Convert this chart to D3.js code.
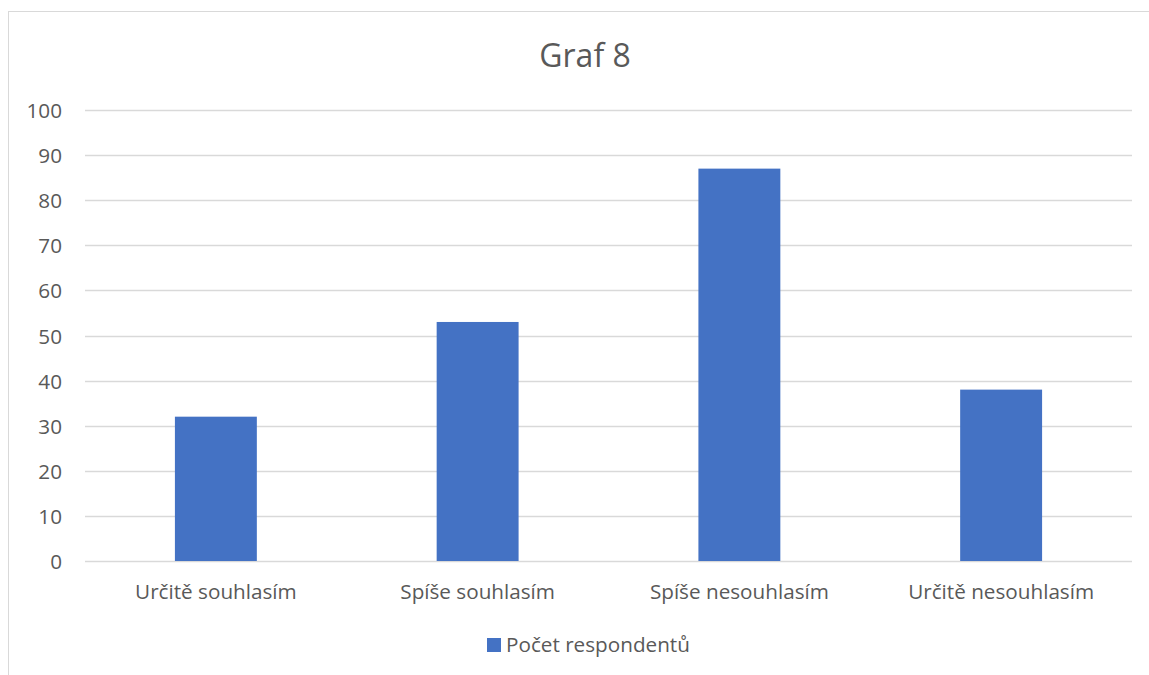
<!DOCTYPE html>
<html><head><meta charset="utf-8">
<script src="https://cdn.jsdelivr.net/npm/d3@7"></script>
<style>html,body{margin:0;padding:0;background:#fff;overflow:hidden}</style>
</head><body>
<svg id="c" width="1149" height="675"></svg>
<script>
const categories = ["Určitě souhlasím", "Spíše souhlasím", "Spíše nesouhlasím", "Určitě nesouhlasím"];
const values = [32, 53, 87, 38];
const yTicks = [0, 10, 20, 30, 40, 50, 60, 70, 80, 90, 100];
const seriesName = "Počet respondentů";
const title = "Graf 8";

(function () {
const svg = d3.select("#c");
const font = "'Open Sans', 'Noto Sans', sans-serif";
const textColor = "#595959";
const fs = 20.7;

svg.append("rect").attr("x", 8.5).attr("y", 11.5).attr("width", 1160).attr("height", 700)
  .attr("fill", "#fff").attr("stroke", "#d9d9d9").attr("stroke-width", 1);

const pLeft = 85, pRight = 1132, pTop = 110, pBottom = 561;
const x = d3.scaleBand().domain(categories).range([pLeft, pRight]).paddingInner(0.687).paddingOuter(0.3435);
const y = d3.scaleLinear().domain([0, 100]).range([pBottom, pTop]);

svg.append("text").attr("x", 585).attr("y", 67).attr("text-anchor", "middle")
  .attr("font-family", font).attr("font-size", 32).attr("fill", textColor).text(title);

const grid = svg.append("g");
grid.selectAll("line").data(yTicks).join("line")
  .attr("x1", pLeft).attr("x2", pRight)
  .attr("y1", d => Math.round(y(d)) + 0.5).attr("y2", d => Math.round(y(d)) + 0.5)
  .attr("stroke", "#d9d9d9").attr("stroke-width", 1.5);

const yAxis = d3.axisLeft(y).tickValues(yTicks).tickSize(0).tickPadding(0);
const ya = svg.append("g").attr("transform", `translate(62,0)`).call(yAxis);
ya.select(".domain").remove();
ya.selectAll("text").attr("font-family", font).attr("font-size", fs).attr("fill", textColor)
  .attr("dy", null).attr("y", 7.5);

svg.append("g").selectAll("rect").data(values).join("rect")
  .attr("x", (d, i) => x(categories[i]))
  .attr("y", d => y(d))
  .attr("width", x.bandwidth())
  .attr("height", d => pBottom - y(d))
  .attr("fill", "#4472c4");

const xAxis = d3.axisBottom(d3.scaleBand().domain(categories).range([pLeft, pRight])).tickSize(0).tickPadding(0);
const xa = svg.append("g").attr("transform", `translate(0,${pBottom})`).call(xAxis);
xa.select(".domain").remove();
xa.selectAll("text").attr("font-family", font).attr("font-size", fs).attr("fill", textColor)
  .attr("dy", null).attr("y", 38);

const lg = svg.append("g");
lg.append("rect").attr("x", 487).attr("y", 638).attr("width", 14).attr("height", 14).attr("fill", "#4472c4");
lg.append("text").attr("x", 506).attr("y", 652)
  .attr("font-family", font).attr("font-size", fs).attr("fill", textColor).text(seriesName);
})();
</script>
</body></html>
